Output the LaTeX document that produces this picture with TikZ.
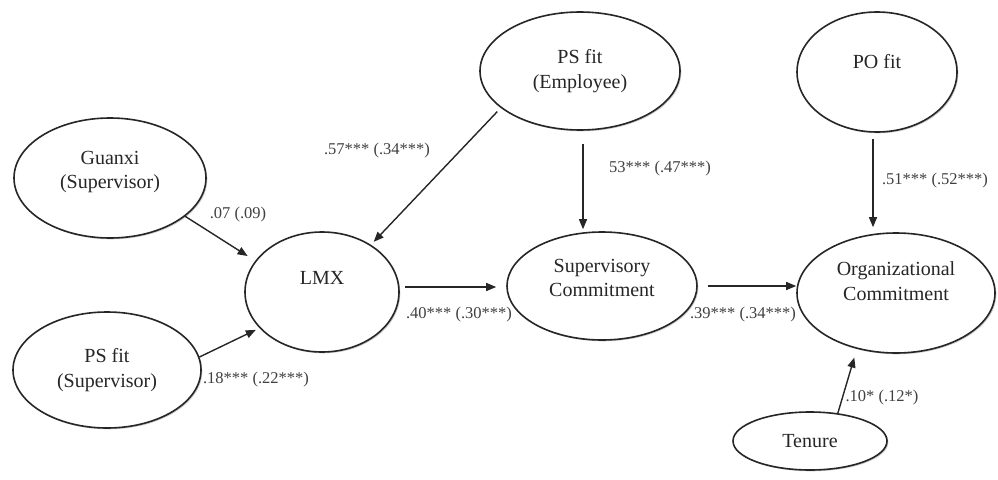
\documentclass[tikz,border=0pt]{standalone}
\usepackage{fontspec}
\setmainfont{Liberation Serif}
\usetikzlibrary{shapes.geometric,arrows.meta,shadows}
\begin{document}
\begin{tikzpicture}[x=1pt,y=-1pt,
 ell/.style={ellipse, draw=black!85, line width=1.6pt, fill=white, inner sep=0pt,
   drop shadow={shadow xshift=1.3pt, shadow yshift=-1.3pt, fill=black!40}},
 nt/.style={font=\fontsize{20}{24.5}\selectfont, text=black!85, align=center, inner sep=0pt},
 lab/.style={font=\fontsize{16.5}{18}\selectfont, text=black!75, inner sep=0pt},
 arr/.style={draw=black!85, line width=1.4pt, -{Triangle[length=10pt,width=8pt]}}
]
\fill[white] (0,0) rectangle (998,479);
\useasboundingbox (0,0) rectangle (998,479);

% ellipses
\node[ell, minimum width=192pt, minimum height=120pt] (g)   at (110,178) {};
\node[ell, minimum width=188pt, minimum height=116pt] (pss) at (107,370) {};
\node[ell, minimum width=154pt, minimum height=120pt] (lmx) at (322,292) {};
\node[ell, minimum width=200pt, minimum height=118pt] (pse) at (580,71) {};
\node[ell, minimum width=190pt, minimum height=108pt] (sup) at (602,286) {};
\node[ell, minimum width=160pt, minimum height=120pt] (po)  at (877,72) {};
\node[ell, minimum width=198pt, minimum height=120pt] (org) at (896,293) {};
\node[ell, minimum width=154pt, minimum height=58pt]  (ten) at (810,441) {};

% texts
\node[nt] (gt)   at ([yshift=6pt]g.center)    {Guanxi\\(Supervisor)};
\node[nt] (psst) at (pss.center)              {PS fit\\(Supervisor)};
\node[nt] (lmxt) at ([yshift=14pt]lmx.center) {LMX};
\node[nt] (pset) at (pse.center)              {PS fit\\(Employee)};
\node[nt] (supt) at ([yshift=8pt]sup.center)  {Supervisory\\Commitment};
\node[nt] (pot)  at ([yshift=10pt]po.center)  {PO fit};
\node[nt] (orgt) at ([yshift=12pt]org.center) {Organizational\\Commitment};
\node[nt] (tent) at (ten.center)              {Tenure};

% arrows
\draw[arr, shorten >=9pt] (g.-27) -- (lmx.155);
\draw[arr, shorten >=4pt] (pss.8) -- (lmx.210);
\draw[arr, shorten <=5pt, shorten >=4pt] (pse.205) -- (lmx.44);
\draw[arr, shorten <=13pt, shorten >=2pt] ([xshift=3pt]pse.south) -- ([xshift=3pt]pse.south |- sup.north);
\draw[arr, shorten <=5pt, shorten >=10pt] ([yshift=5pt]lmx.east) -- ([yshift=5pt]lmx.east -| sup.west);
\draw[arr, shorten <=10pt] (sup.east) -- (sup.east -| org.west);
\draw[arr, shorten <=6pt, shorten >=5pt] ([xshift=-4pt]po.south) -- ([xshift=-4pt]po.south |- org.north);
\draw[arr, shorten >=9pt] (ten.45) -- (org.235);

% labels
\node[lab] (l1) at (238,215) {.07 (.09)};
\node[lab] (l2) at (256,380) {.18*** (.22***)};
\node[lab] (l3) at (377,151) {.57*** (.34***)};
\node[lab] (l4) at (660,169) {53*** (.47***)};
\node[lab] (l5) at (459,315) {.40*** (.30***)};
\node[lab] (l6) at (743,315) {.39*** (.34***)};
\node[lab] (l7) at (935,181) {.51*** (.52***)};
\node[lab] (l8) at (882,398) {.10* (.12*)};
\end{tikzpicture}
\end{document}
